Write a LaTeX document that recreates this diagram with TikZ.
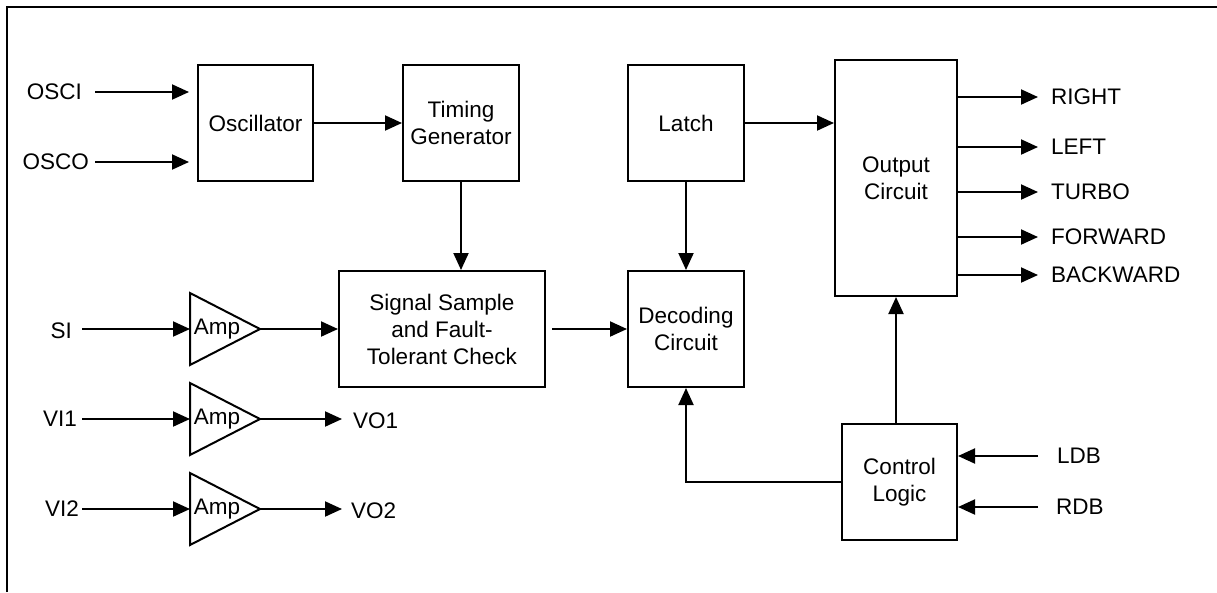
\documentclass[tikz,border=0pt]{standalone}
\usepackage{fontspec}
\setmainfont{Liberation Sans}
\usetikzlibrary{arrows.meta}

\tikzset{
  block/.style={draw, line width=2pt, inner sep=0pt, align=center, minimum width=116pt, minimum height=116pt},
  arr/.style={line width=2pt, -{Triangle[length=17pt,width=15pt]}},
  wire/.style={line width=2pt},
  pinl/.style={inner sep=0pt, anchor=east},
  pinr/.style={inner sep=0pt, anchor=west},
  amptext/.style={inner sep=0pt}
}

\begin{document}
\begin{tikzpicture}[x=1pt, y=-1pt, font=\fontsize{22.5}{27}\selectfont]
   \useasboundingbox (0,0) rectangle (1217,592);
   % outer frame
   \draw[wire, line width=2.5pt] (7,592) -- (7,7) -- (1217,7);

   % blocks
   \node[block, minimum width=115pt] (osc) at (255.5,123) {Oscillator};
   \node[block] (tim) at (461,123) {Timing\\Generator};
   \node[block, minimum width=206pt] (sig) at (442,329) {Signal Sample\\and Fault-\\Tolerant Check};
   \node[block] (latch) at (686,123) {Latch};
   \node[block] (dec) at (686,329) {Decoding\\Circuit};
   \node[block, minimum width=122pt, minimum height=236pt] (out) at (896,178) {Output\\Circuit};
   \node[block, minimum width=115pt] (ctrl) at (899.5,482) {Control\\Logic};

   % amplifiers
   \foreach \n/\y in {1/329, 2/419, 3/509} {
      \coordinate (ampin\n) at (190,\y);
      \coordinate (ampout\n) at (260,\y);
      \draw[wire, line join=miter] (190,\y-36) -- (ampout\n) -- (190,\y+36) -- cycle;
      \node[amptext] (amp\n) at (217,\y) {Amp};
   }

   % input pins
   \node[pinl] (osci) at (82,92) {OSCI};
   \node[pinl] (osco) at (89,162) {OSCO};
   \node[pinl] (si) at (72,331) {SI};
   \node[pinl] (vi1) at (77,419) {VI1};
   \node[pinl] (vi2) at (79,509) {VI2};
   \node[pinr] (vo1) at (353,421) {VO1};
   \node[pinr] (vo2) at (351,511) {VO2};
   \node[pinr] (ldb) at (1057,456) {LDB};
   \node[pinr] (rdb) at (1056,507) {RDB};

   % output pins
   \foreach \nm/\txt/\y in {right/RIGHT/97, left/LEFT/147, turbo/TURBO/192, fwd/FORWARD/237, bwd/BACKWARD/275} {
      \node[pinr] (\nm) at (1051,\y) {\txt};
      \draw[arr, shorten >=13pt] (out.east |- \nm) -- (\nm.west);
   }

   % connections
   \draw[arr, shorten <=13pt, shorten >=8pt] (osci.east) -- (osc.west |- osci);
   \draw[arr, shorten <=6pt, shorten >=8pt] (osco.east) -- (osc.west |- osco);
   \draw[arr] (osc.east) -- (tim.west);
   \draw[arr] (tim.south) -- (tim.south |- sig.north);
   \draw[arr, shorten <=10pt] (si.east |- ampin1) -- (ampin1);
   \draw[arr, shorten <=5pt] (vi1.east) -- (ampin2);
   \draw[arr, shorten <=3pt] (vi2.east) -- (ampin3);
   \draw[arr] (ampout1) -- (sig.west);
   \draw[arr, shorten >=11pt] (ampout2) -- (vo1.west |- ampout2);
   \draw[arr, shorten >=9pt] (ampout3) -- (vo2.west |- ampout3);
   \draw[arr, shorten <=6pt] (sig.east) -- (dec.west);
   \draw[arr] (latch.south) -- (dec.north);
   \draw[arr] (latch.east) -- (latch.east -| out.west);
   \draw[arr] (out.south |- ctrl.north) -- (out.south);
   \draw[arr] (ctrl.west) -- (dec.south |- ctrl.west) -- (dec.south);
   \draw[arr, shorten <=19pt] (ldb.west) -- (ctrl.east |- ldb);
   \draw[arr, shorten <=18pt] (rdb.west) -- (ctrl.east |- rdb);
\end{tikzpicture}
\end{document}
